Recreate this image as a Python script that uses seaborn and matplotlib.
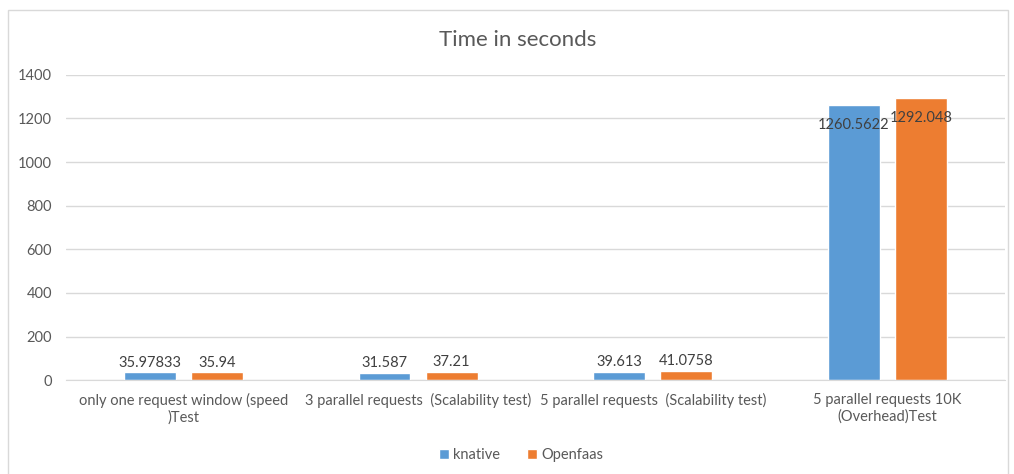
import matplotlib
matplotlib.use("Agg")
import matplotlib.pyplot as plt
from matplotlib.patches import Rectangle
import seaborn as sns
import pandas as pd

# chart data
categories = ["only one request window (speed\n)Test",
              "3 parallel requests  (Scalability test)",
              "5 parallel requests  (Scalability test)",
              "5 parallel requests 10K\n(Overhead)Test"]
knative = [35.97833, 31.587, 39.613, 1260.5622]
openfaas = [35.94, 37.21, 41.0758, 1292.048]
series = ["knative", "Openfaas"]

df = pd.DataFrame({
    "category": categories * 2,
    "time": knative + openfaas,
    "series": [series[0]] * 4 + [series[1]] * 4,
})

sns.set_style("white")
plt.rcParams["font.family"] = ["Lato", "DejaVu Sans"]
text_col = "#595959"
grid_col = "#D9D9D9"

fig = plt.figure(figsize=(10.14, 4.74), dpi=100)
ax = fig.add_axes([0.065, 0.198, 0.926, 0.644])

sns.barplot(data=df, x="category", y="time", hue="series",
            palette=["#5B9BD5", "#ED7D31"], width=0.573, gap=0.23,
            saturation=1, ax=ax, legend=True)

ax.set_ylim(0, 1400)
ax.set_yticks(range(0, 1401, 200))
ax.yaxis.grid(True, color=grid_col, linewidth=1)
ax.set_axisbelow(True)
for s in ["top", "right", "left"]:
    ax.spines[s].set_visible(False)
ax.spines["bottom"].set_color(grid_col)
ax.tick_params(axis="both", length=0, colors=text_col, labelsize=10.5)
ax.tick_params(axis="x", pad=9)
ax.tick_params(axis="y", pad=10)
ax.set_xlabel("")
ax.set_ylabel("")

# value labels
labels = [str(v) for v in knative + openfaas]
for bar, lab in zip(ax.patches[:8], labels):
    h = bar.get_height()
    cx = bar.get_x() + bar.get_width() / 2
    if h > 1000:
        ax.annotate(lab, (cx, h), xytext=(0, -9), textcoords="offset points",
                    ha="center", va="top", fontsize=10.5, color="#404040")
    else:
        ax.annotate(lab, (cx, h), xytext=(0, 2), textcoords="offset points",
                    ha="center", va="bottom", fontsize=10.5, color="#404040")

fig.text(518 / 1014, 1 - 40 / 474, "Time in seconds", fontsize=16,
         color=text_col, ha="center", va="center")

leg = ax.legend(loc="center", bbox_to_anchor=(0.4846, -0.246),
                ncol=2, frameon=False, fontsize=10.5, handlelength=0.7,
                handleheight=0.7, handletextpad=0.3, columnspacing=1.8)
for t in leg.get_texts():
    t.set_color(text_col)

# outer chart border
fig.patches.append(Rectangle((8 / 1014, -0.1), 1000 / 1014, 1.1 - 10 / 474,
                             transform=fig.transFigure, fill=False,
                             edgecolor=grid_col, linewidth=1))

fig.savefig("out.png", dpi=100, facecolor="white")
